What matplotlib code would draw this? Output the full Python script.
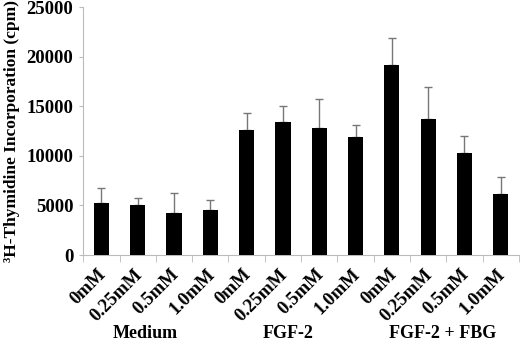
import numpy as np
import matplotlib
matplotlib.use("Agg")
import matplotlib.pyplot as plt
from matplotlib.transforms import ScaledTranslation

# tick labels and groups
conc_labels = ["0mM", "0.25mM", "0.5mM", "1.0mM"] * 3
groups = ["Medium", "FGF-2", "FGF-2 + FBG"]
group_centers = [1.2, 5.15, 9.4]

# mean incorporation (cpm) and upper error (SD)
means = [5250, 5050, 4250, 4550,
         12600, 13400, 12850, 11950,
         19200, 13750, 10300, 6200]
errors = [1550, 700, 2050, 1050,
          1700, 1600, 2900, 1200,
          2700, 3250, 1750, 1700]

plt.rcParams["font.family"] = ["Liberation Serif", "DejaVu Serif"]
plt.rcParams["font.weight"] = "bold"

fig = plt.figure(figsize=(5.2, 3.46), dpi=100)
ax = fig.add_axes([0.160, 0.263, 0.838, 0.716])

x = np.arange(len(means))
ax.bar(x, means, width=0.42, color="black", zorder=3)
ax.errorbar(x, means, yerr=[np.zeros(len(errors)), errors], fmt="none",
            ecolor="#777777", elinewidth=1, capsize=3, capthick=1, zorder=2)

ax.set_xlim(-0.5, len(means) - 0.5)
ax.set_ylim(0, 25000)
ax.set_yticks(np.arange(0, 25001, 5000))
ax.tick_params(axis="y", length=3, color="#bbbbbb", labelsize=13.5, pad=4)

ax.set_xticks(x)
ax.set_xticklabels(conc_labels, rotation=45, ha="right", rotation_mode="anchor",
                   fontsize=13.5, fontweight="bold")
ax.tick_params(axis="x", length=0, pad=8)
# nudge rotated labels a little left, as in the original
shift = ScaledTranslation(-4 / 100, 0, fig.dpi_scale_trans)
for lbl in ax.get_xticklabels():
    lbl.set_transform(lbl.get_transform() + shift)
ax.set_xticks(np.arange(-0.5, len(means), 1), minor=True)
ax.tick_params(axis="x", which="minor", length=5, color="#bbbbbb")

for s in ["top", "right"]:
    ax.spines[s].set_visible(False)
for s in ["left", "bottom"]:
    ax.spines[s].set_color("#bbbbbb")

ax.set_ylabel("³H-Thymidine Incorporation (cpm)", fontsize=12.5,
              fontweight="bold", labelpad=5)

for name, cx in zip(groups, group_centers):
    ax.text(cx, -0.352, name, transform=ax.get_xaxis_transform(), ha="center",
            va="bottom", fontsize=13, fontweight="bold")

fig.savefig("out.png", dpi=100)
